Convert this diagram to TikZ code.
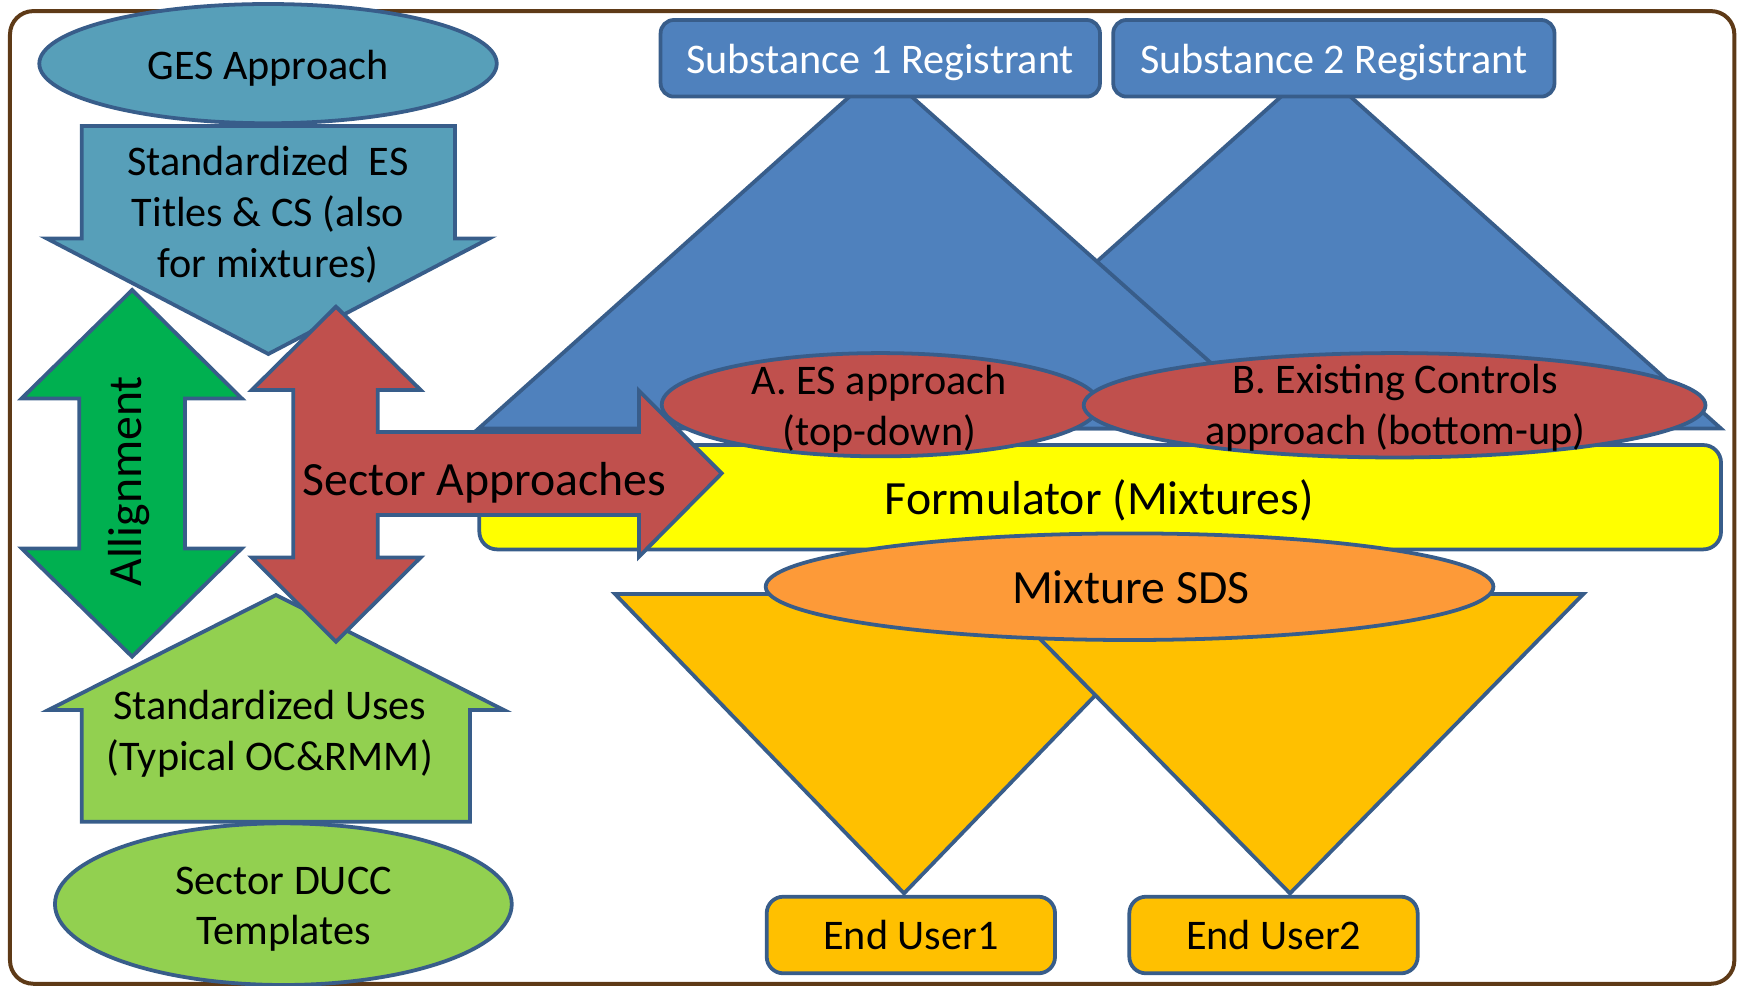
\documentclass[tikz,border=0pt]{standalone}
\usepackage{fontspec}
\setmainfont{Carlito}
\usetikzlibrary{shapes.geometric}
\definecolor{cStk}{HTML}{385D8A}
\definecolor{cBrd}{HTML}{5E3A17}
\definecolor{cBlue}{HTML}{4F81BD}
\definecolor{cTeal}{HTML}{579FB9}
\definecolor{cGreen}{HTML}{00B050}
\definecolor{cLGreen}{HTML}{92D050}
\definecolor{cRed}{HTML}{C0504D}
\definecolor{cYel}{HTML}{FFFF00}
\definecolor{cOrange}{HTML}{FD9A38}
\definecolor{cGold}{HTML}{FFC000}
\tikzset{
  shp/.style={draw=cStk, line width=3.4pt},
  ell/.style={shp, ellipse, inner sep=0pt},
  box/.style={shp, rectangle, inner sep=0pt},
  txt/.style={font=\fontsize{38}{45.6}\selectfont, align=center, inner sep=0pt},
  bigtxt/.style={font=\fontsize{43}{51.6}\selectfont, align=center, inner sep=0pt}
}
\begin{document}
\begin{tikzpicture}[x=1pt,y=-1pt]
\useasboundingbox (0,0) rectangle (1568,888);
% frame
\draw[cBrd, line width=3.6pt, rounded corners=21pt] (9,10) rectangle (1562,886);
% blue triangles
\draw[shp, fill=cBlue] (1185,59) -- (1550,386) -- (820,386) -- cycle;
\draw[shp, fill=cBlue] (793,62) -- (1157,386) -- (431,386) -- cycle;
% substance boxes
\node[box, fill=cBlue, rounded corners=12pt, minimum width=395.7pt, minimum height=69pt] (s1box) at (792.8,52.5) {};
\node[txt, text=white] (s1) at (792.8,56.9) {\strut Substance 1 Registrant};
\node[box, fill=cBlue, rounded corners=12pt, minimum width=397.4pt, minimum height=69pt] (s2box) at (1201.3,52.5) {};
\node[txt, text=white] (s2) at (1201.3,56.9) {\strut Substance 2 Registrant};
% formulator
\node[box, fill=cYel, rounded corners=16pt, minimum width=1118.3pt, minimum height=94pt] (fbox) at (990.85,447.8) {};
% approach ellipses
\node[ell, fill=cRed, minimum width=394pt, minimum height=93pt] (ea) at (793,364.5) {};
\node[txt] (eat) at (792,369.3) {\strut A. ES approach\\(top-down)\strut};
\node[ell, fill=cRed, minimum width=560pt, minimum height=94pt] (eb) at (1256,365) {};
\node[txt] (ebt) at (1256.6,368.5) {\strut B. Existing Controls\\approach (bottom-up)\strut};
\node[bigtxt] (ft) at (990,452.7) {\strut Formulator (Mixtures)};
% gold triangles
\draw[shp, fill=cGold] (553.9,535) -- (1074.5,535) -- (814.2,804.6) -- cycle;
\draw[shp, fill=cGold] (897,535) -- (1426,535) -- (1161.8,804.6) -- cycle;
\node[ell, fill=cOrange, minimum width=655.4pt, minimum height=96pt] (sds) at (1017.3,528.4) {};
\node[bigtxt] (sdst) at (1018.5,533.1) {\strut Mixture SDS};
% end users
\node[box, fill=cGold, rounded corners=15pt, minimum width=259.7pt, minimum height=69pt] (eu1) at (820.35,842.1) {};
\node[txt] (eu1t) at (820.4,845.9) {\strut End User1};
\node[box, fill=cGold, rounded corners=15pt, minimum width=259.7pt, minimum height=69pt] (eu2) at (1146.95,842.1) {};
\node[txt] (eu2t) at (1147.1,845.9) {\strut End User2};
% left column
\node[ell, fill=cTeal, minimum width=412pt, minimum height=107.4pt] (ges) at (241.4,57.3) {};
\node[txt] (gest) at (241.4,62.9) {\strut GES Approach};
\draw[shp, fill=cTeal] (73.6,113.5) -- (409.8,113.5) -- (409.8,214.7) -- (440.7,214.7) -- (241.7,318.8) -- (42,214.7) -- (73.6,214.7) -- cycle;
\node[txt] (est) at (241.4,194.9) {\strut Standardized~~ES\\Titles \& CS (also\\for mixtures)\strut};
% allignment arrow
\draw[shp, fill=cGreen] (119,261.2) -- (217.7,358.8) -- (166.6,358.8) -- (166.6,493.9) -- (217.7,493.9) -- (119,591.4) -- (19.5,493.9) -- (71.4,493.9) -- (71.4,358.8) -- (19.5,358.8) -- cycle;
\node[bigtxt, rotate=90] (allt) at (117.3,433.5) {\strut Allignment};
% standardized uses
\draw[shp, fill=cLGreen] (248.6,535.9) -- (453.9,639.5) -- (423.3,639.5) -- (423.3,740.1) -- (73.6,740.1) -- (73.6,639.5) -- (43.5,639.5) -- cycle;
\node[txt] (sut) at (242.9,661.6) {\strut Standardized Uses\\(Typical OC\&RMM)\strut};
\node[ell, fill=cLGreen, minimum width=411.4pt, minimum height=145.6pt] (ducc) at (255.2,814.3) {};
\node[txt] (ducct) at (255.6,818.9) {\strut Sector DUCC\\Templates\strut};
% sector approaches arrow
\draw[shp, fill=cRed] (302.6,276.2) -- (378.9,351.3) -- (340.2,351.3) -- (340.2,389) -- (575.5,389) -- (575.5,351.9) -- (650,426.3) -- (575.5,501.4) -- (575.5,463.8) -- (340.2,463.8) -- (340.2,502) -- (378.9,502) -- (302.6,577.9) -- (226.7,502) -- (264.2,502) -- (264.2,351.3) -- (226.7,351.3) -- cycle;
\node[bigtxt] (sat) at (436.5,435.7) {\strut Sector Approaches};
\end{tikzpicture}
\end{document}
